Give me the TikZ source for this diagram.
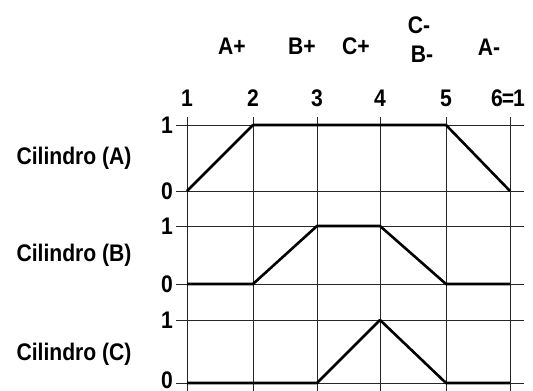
\documentclass[tikz,border=0pt]{standalone}
\usepackage{fontspec}
\setmainfont{Liberation Sans}[FakeStretch=0.88]
\usetikzlibrary{positioning}

\begin{document}
\begin{tikzpicture}[x=1pt,y=-1pt,
  grid/.style={line width=0.7pt,black!85},
  sig/.style={line width=2.6pt,line join=round},
  txt/.style={font=\fontsize{24}{26}\bfseries\selectfont,inner sep=0pt},
  lvl/.style={txt,anchor=east}]
\useasboundingbox (0,0) rectangle (533,391);
% step columns and level rows
\foreach \n/\x in {1/187,2/253,3/317,4/380,5/446,6/510}
  \coordinate (c\n) at (\x,0);
\foreach \n/\y in {a1/125,a0/191,b1/226,b0/284,k1/320,k0/383}
  \coordinate (\n) at (0,\y);
\foreach \n in {1,...,6} \draw[grid] (c\n |- 0,117) -- (c\n |- 0,391);
\foreach \n/\v/\d in {a1/1/0,a0/0/0,b1/1/0,b0/0/0,k1/1/0,k0/0/3} {
  \draw[grid] (176,0 |- \n) -- (524,0 |- \n);
  \node[lvl,yshift=\d pt] (l\n) at (173,0 |- \n) {\v};
}
% step numbers
\foreach \n in {1,...,5} \node[txt] (n\n) at (c\n |- 0,98) {\n};
\node[txt] (n6) at (508,98) {6\kern-1pt=\kern-1pt1};
% movements
\node[txt] (ap) at (232,46) {A+};
\node[txt] (bp) at (302,46) {B+};
\node[txt] (cp) at (356,46) {C+};
\node[txt] (cm) at (419,25) {C-};
\node[txt] (bm) at (422,54) {B-};
\node[txt] (am) at (489,47) {A-};
% cylinders
\node[txt] (ca) at (74,158) {Cilindro (A)};
\node[txt] (cb) at (74,255) {Cilindro (B)};
\node[txt] (cc) at (74,354) {Cilindro (C)};
\draw[sig] (c1 |- a0) -- (c2 |- a1) -- (c5 |- a1) -- (c6 |- a0);
\draw[sig] (c1 |- b0) -- (c2 |- b0) -- (c3 |- b1) -- (c4 |- b1) -- (c5 |- b0) -- (c6 |- b0);
\draw[sig] (c1 |- k0) -- (c3 |- k0) -- (c4 |- k1) -- (c5 |- k0) -- (c6 |- k0);
\end{tikzpicture}
\end{document}
